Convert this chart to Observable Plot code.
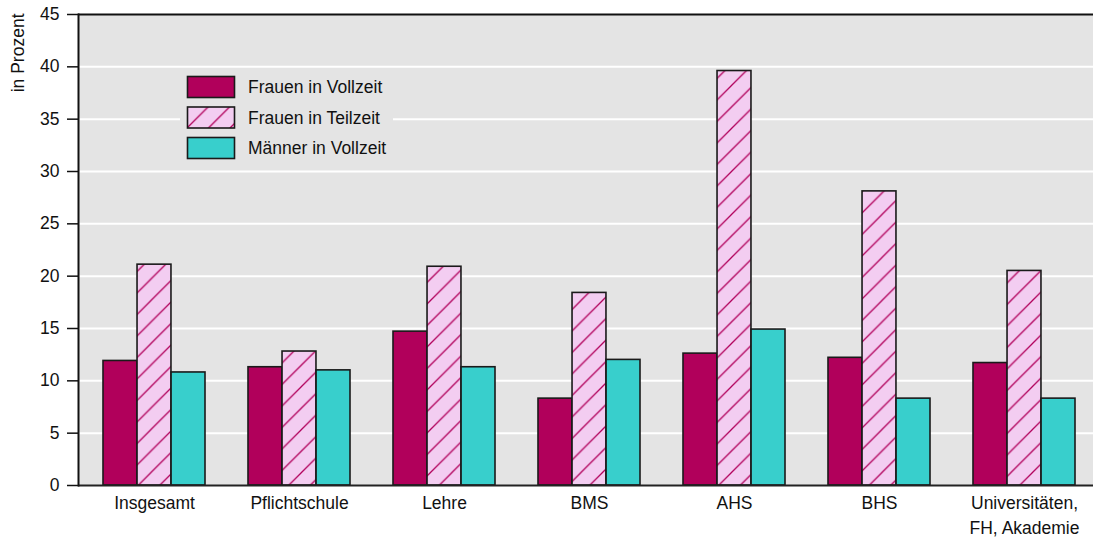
<!DOCTYPE html>
<html>
<head>
<meta charset="utf-8">
<script src="https://cdn.jsdelivr.net/npm/d3@7"></script>
<script src="https://cdn.jsdelivr.net/npm/@observablehq/plot@0.6"></script>
<style>
  html, body { margin: 0; padding: 0; background: white; overflow: hidden; }
  #wrap { position: relative; width: 1093px; height: 538px; }
  #legend { position: absolute; left: 180px; top: 70px; }
</style>
</head>
<body>
<div id="wrap"></div>
<script>
const categories = ["Insgesamt", "Pflichtschule", "Lehre", "BMS", "AHS", "BHS", "Universitäten,\nFH, Akademie"];
const series = ["Frauen in Vollzeit", "Frauen in Teilzeit", "Männer in Vollzeit"];
const frauenVollzeit = [11.9, 11.3, 14.7, 8.3, 12.6, 12.2, 11.7];
const frauenTeilzeit = [21.1, 12.8, 20.9, 18.4, 39.6, 28.1, 20.5];
const maennerVollzeit = [10.8, 11.0, 11.3, 12.0, 14.9, 8.3, 8.3];
const yTicks = [0, 5, 10, 15, 20, 25, 30, 35, 40, 45];

const colFV = "#b1005b", colFTfill = "#f3cdf1", colHatch = "#b1005b", colMV = "#38cfcc";
const fonts = "'Liberation Sans', Arial, Helvetica, sans-serif";

const W = 1093, H = 538;
const marginLeft = 78, marginRight = -6, marginTop = 14, marginBottom = 53;
const pi = 0.3, po = 0.15;
const step = (W - marginLeft - marginRight) / (categories.length - pi + 2 * po);
const third = step * (1 - pi) / 3;

const rows = (vals) => categories.map((c, i) => ({category: c, value: vals[i]}));
const barStroke = {stroke: "#1a1a1a", strokeWidth: 1.6};

const plot = Plot.plot({
  width: W, height: H, marginLeft, marginRight, marginTop, marginBottom,
  style: {fontFamily: fonts, fontSize: "17.5px", color: "#111", background: "white"},
  x: {domain: categories, paddingInner: pi, paddingOuter: po, axis: null},
  y: {domain: [0, 45], axis: null},
  marks: [
    Plot.frame({fill: "#e4e4e4"}),
    Plot.ruleY(yTicks.filter(t => t > 0 && t < 45), {stroke: "white", strokeWidth: 2}),
    Plot.barY(rows(frauenVollzeit), {x: "category", y: "value", fill: colFV, ...barStroke, insetRight: 2 * third}),
    Plot.barY(rows(frauenTeilzeit), {x: "category", y: "value", fill: "url(#hatch)", ...barStroke, insetLeft: third, insetRight: third}),
    Plot.barY(rows(maennerVollzeit), {x: "category", y: "value", fill: colMV, ...barStroke, insetLeft: 2 * third}),
    Plot.ruleY([45], {stroke: "#111", strokeWidth: 2}),
    Plot.ruleY([0], {stroke: "#222", strokeWidth: 2}),
    Plot.frame({anchor: "left", stroke: "#111", strokeWidth: 2}),
    Plot.axisY({ticks: yTicks, tickSize: 11, tickPadding: 8, label: null, fontSize: 17.5, stroke: "#111", strokeWidth: 1.5}),
    Plot.axisX({tickSize: 0, tickPadding: 6, label: null, fontSize: 17.5, lineHeight: 1.42}),
    Plot.text(["in Prozent"], {frameAnchor: "top-left", rotate: -90, textAnchor: "end", lineAnchor: "middle", dx: -60, dy: -1, fontSize: 17.5, fill: "#111"})
  ]
});

const defs = d3.select(plot).insert("defs", ":first-child");
const s = 21.5;
const pat = defs.append("pattern").attr("id", "hatch").attr("patternUnits", "userSpaceOnUse")
  .attr("width", s).attr("height", s);
pat.append("rect").attr("width", s).attr("height", s).attr("fill", colFTfill);
pat.append("path").attr("d", `M0,${s}L${s},0M${-2},2L2,-2M${s - 2},${s + 2}L${s + 2},${s - 2}`)
  .attr("stroke", colHatch).attr("stroke-width", 1.3).attr("fill", "none");

document.getElementById("wrap").appendChild(plot);

// legend
const legendFills = [colFV, "url(#hatch)", colMV];
const lg = d3.select("#wrap").append("svg").attr("id", "legend")
  .attr("width", 213).attr("height", 95)
  .style("background", "#e4e4e4");
series.forEach((name, i) => {
  const g = lg.append("g").attr("transform", `translate(7,${6 + i * 30.5})`);
  g.append("rect").attr("x", 0.5).attr("y", 0.5).attr("width", 47).attr("height", 21)
    .attr("fill", legendFills[i]).attr("stroke", "#1a1a1a").attr("stroke-width", 1.6);
  g.append("text").attr("x", 61).attr("y", 11).attr("dy", "0.35em")
    .attr("font-family", fonts).attr("font-size", 17.5).attr("fill", "#111").text(name);
});
</script>
</body>
</html>
